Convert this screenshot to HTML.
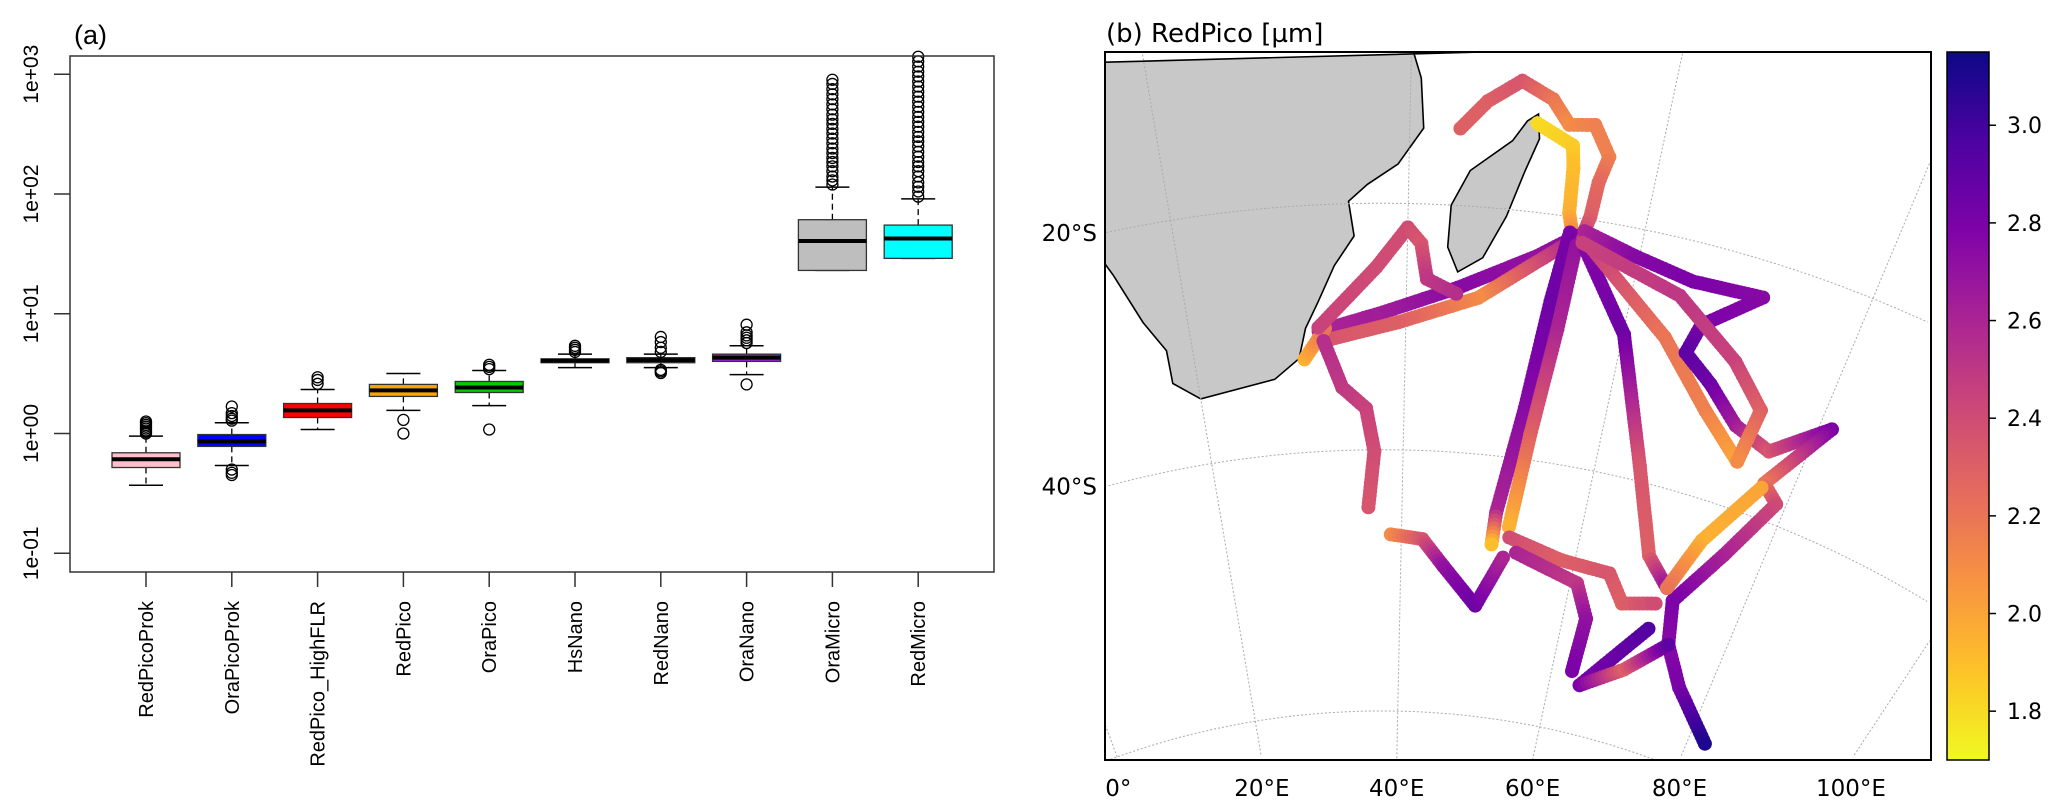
<!DOCTYPE html>
<html><head><meta charset="utf-8"><title>Boxplots and RedPico map</title>
<style>
html,body{margin:0;padding:0;background:#fff;overflow:hidden;}
svg{display:block;font-family:"Liberation Sans","DejaVu Sans",sans-serif;}
.dv{font-family:"DejaVu Sans","Liberation Sans",sans-serif;}
</style></head>
<body>
<svg id="fig" width="2067" height="809" viewBox="0 0 2067 809" xmlns="http://www.w3.org/2000/svg">
  <defs>
    <clipPath id="mapclip"><rect x="1105" y="52" width="826" height="708"/></clipPath>
    <linearGradient id="cbgrad" x1="0" y1="0" x2="0" y2="1">
      <stop offset="0" stop-color="#0d0887"/>
      <stop offset="0.125" stop-color="#4c02a1"/>
      <stop offset="0.25" stop-color="#7e03a8"/>
      <stop offset="0.375" stop-color="#a92395"/>
      <stop offset="0.5" stop-color="#cc4778"/>
      <stop offset="0.625" stop-color="#e56b5d"/>
      <stop offset="0.75" stop-color="#f89441"/>
      <stop offset="0.875" stop-color="#fdc328"/>
      <stop offset="1" stop-color="#f0f921"/>
    </linearGradient>
  </defs>
  <g id="panelA">
    <text x="74" y="44" font-size="27">(a)</text>
    <g id="boxes"></g>
    <rect x="70" y="56" width="924" height="516" fill="none" stroke="#333" stroke-width="1.5"/>
    <g id="yaxisA"></g>
    <g id="xaxisA"></g>
  </g>
  <g id="panelB">
    <text class="dv" x="1106" y="42" font-size="26">(b) RedPico [µm]</text>
    <g clip-path="url(#mapclip)">
      <g id="land"></g>
      <g id="grat"></g>
      <g id="tracks"></g>
    </g>
    <rect x="1105" y="52" width="826" height="708" fill="none" stroke="#000" stroke-width="2"/>
    <g id="mapLabels" class="dv"></g>
    <rect x="1947" y="52" width="42" height="708" fill="url(#cbgrad)" stroke="#000" stroke-width="1.5"/>
    <g id="cbTicks" class="dv"></g>
  </g>
</svg>
<script>
// ---------- Panel (a) data ----------
const boxCategories = ["RedPicoProk","OraPicoProk","RedPico_HighFLR","RedPico","OraPico","HsNano","RedNano","OraNano","OraMicro","RedMicro"];
const boxColors = ["#ffc0cb","#0000ff","#ff0000","#ffa500","#00cd00","#777777","#777777","#a020f0","#bebebe","#00ffff"];
const boxQ1 = [0.52,0.78,1.36,2.04,2.2,3.9,3.9,4.0,23,29];
const boxMedian = [0.61,0.86,1.56,2.29,2.42,4.06,4.1,4.3,40.5,42.5];
const boxQ3 = [0.69,0.98,1.78,2.57,2.72,4.2,4.3,4.6,61,55];
const whiskerLow = [0.37,0.54,1.08,1.56,1.71,3.55,3.55,3.1,23,29];
const whiskerHigh = [0.95,1.23,2.33,3.17,3.36,4.6,4.6,5.4,114,91];
const outliers = [
  [1.0,1.03,1.06,1.1,1.14,1.18,1.22,1.26],
  [1.28,1.33,1.4,1.48,1.68,0.5,0.47,0.45],
  [2.6,2.8,2.95],
  [1.3,1.0],
  [3.45,3.6,3.75,1.08],
  [4.8,5.0,5.2,5.4],
  [4.8,5.2,5.8,6.4,3.4,3.3,3.2],
  [5.7,6.0,6.3,6.6,7.0,8.1,2.57],
  [120,130,140,155,170,185,200,220,240,265,290,320,350,385,420,460,510,560,620,680,750,830,900],
  [95,105,115,125,140,155,170,185,205,225,250,275,300,330,365,400,440,485,535,590,650,715,790,870,960,1050,1160,1280,1400]
];
const yTickValues = [0.1,1,10,100,1000];
const yTickLabels = ["1e-01","1e+00","1e+01","1e+02","1e+03"];

// ---------- Panel (b) data: [lon, lat, RedPico size µm] ----------
const trackNorth = [[44,-13.5,2.3],[46,-11,2.3],[48.5,-9,2.35],[51,-10.3,2.2],[52.5,-12.3,2.1],[54.5,-12,2.15],[56,-14.5,2.15],[55.5,-16.8,2.25],[55.3,-19.7,2.3],[55,-21,2.4]];
const trackYellow = [[50,-12.5,1.8],[53,-14,1.85],[53.3,-15.9,1.9],[53.5,-19.7,1.95],[54,-21.3,2.1]];
const trackWest1 = [[54.4,-21.5,2.75],[51.3,-23.6,2.7],[44.6,-26.8,2.75],[37.9,-29,2.65],[31.9,-30.4,2.6]];
const trackWest2 = [[54,-22,2.6],[46.5,-27.5,2.1],[39.3,-29.8,2.3],[32.3,-31.2,2.35]];
const trackCoast = [[30.4,-32.6,1.95],[32.5,-30.2,2.2]];
const trackWestLoop = [[31.9,-30.1,2.45],[37.3,-25.3,2.4],[40,-22,2.4],[41.2,-23.3,2.35],[41.8,-26.2,2.5],[44.5,-27.3,2.55]];
const trackWestSouth = [[32.3,-31.2,2.55],[33.9,-35,2.5],[36.2,-36.7,2.45],[37,-40.1,2.4],[36.3,-44.5,2.35]];
const trackSouthWest = [[38.8,-46.6,2.1],[42.4,-46.9,2.35],[45,-48.9,2.7],[49.2,-51.7,2.85],[51.8,-47.8,2.6]];
const trackS1 = [[53.8,-21.3,2.8],[53,-27.2,2.85],[52,-36,2.75],[50.4,-44.4,2.6],[50.3,-46.9,1.9]];
const trackS2 = [[54.5,-22.3,2.7],[54,-29.3,2.6],[52.9,-38,2.3],[52,-45.4,1.95]];
const trackS3 = [[55,-22,2.75],[60.1,-28.8,2.85],[64.5,-38.8,2.35],[68,-45.4,2.3],[71,-47.4,2.7]];
const trackS4 = [[55,-21.6,2.5],[63.8,-28.3,2.2],[69.3,-33.2,2.15],[73.8,-36.3,2.0]];
const trackEast = [[55,-21,2.6],[59.6,-22.3,2.75],[65,-23.3,2.8],[71.2,-23,2.75],[66.7,-26.6,2.8],[66,-29.1,2.9],[69,-31,2.85],[72.5,-33.6,2.65],[76.4,-34.7,2.35],[81.2,-31.2,2.8],[77.1,-37.2,2.2],[79,-38.4,2.4],[75.8,-43.6,2.6],[72.1,-48.2,2.8],[73.3,-51.5,2.75],[76.4,-54.3,2.8],[82.3,-57.5,3.1]];
const trackEast2 = [[55,-22,2.45],[64.2,-24.7,2.5],[70.6,-28.7,2.45],[74.3,-31.8,2.3],[73.8,-36.3,2.1]];
const trackSE = [[77,-37.6,2.0],[73,-43.1,1.95],[71,-47.4,2.2]];
const trackC1 = [[52.2,-46.2,2.4],[58.5,-47.3,2.3],[64.2,-47.5,2.35],[66.5,-49.5,2.3],[70.3,-48.8,2.4]];
const trackC2 = [[53.2,-47.3,2.6],[60.8,-48.8,2.5],[62.8,-51.3,2.7],[62.6,-55.4,2.8]];
const trackC3 = [[70.4,-50.8,2.95],[64,-56.3,2.8],[69,-54.3,2.3],[73.3,-51.5,2.9]];
const africaOutline = [[45,0],[40.2,-7.2],[40.8,-9.3],[41.1,-13.6],[39.1,-16.7],[36.6,-18.4],[35,-19.8],[35.4,-22.7],[33.6,-25.1],[32,-28],[30.7,-30.1],[29.9,-32.5],[27.4,-34],[20,-34.8],[17.6,-33.2],[17.6,-30.5],[16,-27.9],[14.3,-23.6],[13.7,-22.5],[0,-22],[0,0]];
const madagascarOutline = [[50,-11.7],[50.3,-13.8],[49.4,-16.8],[48.3,-20.6],[46.6,-24.2],[44.5,-25.5],[43.5,-23.5],[43.6,-20],[45,-17],[48.2,-14.2],[49.2,-12.4]];
const meridians = [0,20,40,60,80,100];
const meridianLabels = ["0°","20°E","40°E","60°E","80°E","100°E"];
const parallels = [-20,-40,-60];
const parallelLabels = ["20°S","40°S",""];
const cbTickValues = [1.8,2.0,2.2,2.4,2.6,2.8,3.0];
const cbTickLabels = ["1.8","2.0","2.2","2.4","2.6","2.8","3.0"];
const cbMin = 1.70, cbMax = 3.15;

const NS = "http://www.w3.org/2000/svg";
function mk(tag, attrs, parent){ const e=document.createElementNS(NS,tag); for(const k in attrs) e.setAttribute(k,attrs[k]); parent.appendChild(e); return e; }

// ---------- Panel (a) ----------
function yA(v){ return 433.5 - 119.75*Math.log10(v); }
function xA(i){ return 146 + i*85.8; }
const gBoxes=document.getElementById('boxes');
boxCategories.forEach((cat,i)=>{
  const g=mk('g',{},gBoxes);
  
  
  const cx=xA(i);
  const w1=mk('line',{x1:cx,x2:cx,y1:yA(boxQ3[i]),y2:yA(whiskerHigh[i]),stroke:'#000','stroke-width':1.3,'stroke-dasharray':'6,4'},g);
  
  
  const w2=mk('line',{x1:cx,x2:cx,y1:yA(boxQ1[i]),y2:yA(whiskerLow[i]),stroke:'#000','stroke-width':1.3,'stroke-dasharray':'6,4'},g);
  
  
  const c1=mk('line',{x1:cx-17,x2:cx+17,y1:yA(whiskerHigh[i]),y2:yA(whiskerHigh[i]),stroke:'#000','stroke-width':1.5},g);
  
  
  const c2=mk('line',{x1:cx-17,x2:cx+17,y1:yA(whiskerLow[i]),y2:yA(whiskerLow[i]),stroke:'#000','stroke-width':1.5},g);
  
  
  const r=mk('rect',{x:cx-34,y:yA(boxQ3[i]),width:68,height:Math.max(yA(boxQ1[i])-yA(boxQ3[i]),1),fill:boxColors[i],stroke:'#333','stroke-width':1.3},g);
  
  
  const m=mk('line',{x1:cx-34,x2:cx+34,y1:yA(boxMedian[i]),y2:yA(boxMedian[i]),stroke:'#000','stroke-width':4},g);
  
  
  outliers[i].forEach(v=>{
    const o=mk('circle',{cx:cx,cy:yA(v),r:5.5,fill:'none',stroke:'#000','stroke-width':1.3},g);
    
    
  });
});
const gY=document.getElementById('yaxisA');
yTickValues.forEach((v,i)=>{
  const y=yA(v);
  const t=mk('line',{x1:54,x2:70,y1:y,y2:y,stroke:'#333','stroke-width':1.5},gY);
  
  
  const l=mk('text',{x:0,y:0,'font-size':21,'text-anchor':'middle',transform:`translate(38,${y}) rotate(-90)`},gY);
  l.textContent=yTickLabels[i];
  
  
});
const gX=document.getElementById('xaxisA');
boxCategories.forEach((cat,i)=>{
  const x=xA(i);
  const t=mk('line',{x1:x,x2:x,y1:572,y2:587,stroke:'#333','stroke-width':1.5},gX);
  
  
  const l=mk('text',{x:0,y:0,'font-size':20,'text-anchor':'end',transform:`translate(${x+7},601) rotate(-90)`},gX);
  l.textContent=cat;
  
  
});

// ---------- Panel (b) ----------
const MX0=1105, MX1=1931, MY0=52, MY1=760;
function proj(lon,lat){
  const th=(lon-37.8)*0.53*Math.PI/180;
  const s=lat+40;
  const r=1039+12.925*s-0.01875*s*s;
  return [1382+r*Math.sin(th), (1497-r*Math.cos(th))*0.982];
}
function inside(p){ return p[0]>=MX0 && p[0]<=MX1 && p[1]>=MY0 && p[1]<=MY1; }
function clampPt(p){ return [Math.min(MX1,Math.max(MX0,p[0])), Math.min(MY1,Math.max(MY0,p[1]))]; }
const plasma=["#0d0887","#4c02a1","#7e03a8","#a92395","#cc4778","#e56b5d","#f89441","#fdc328","#f0f921"];
function hex(h){return [parseInt(h.slice(1,3),16),parseInt(h.slice(3,5),16),parseInt(h.slice(5,7),16)];}
function colorFor(v){
  let t=1-(v-cbMin)/(cbMax-cbMin); t=Math.max(0,Math.min(1,t));
  const f=t*8, i=Math.min(7,Math.floor(f)), u=f-i;
  const a=hex(plasma[i]), b=hex(plasma[i+1]);
  return `rgb(${Math.round(a[0]+(b[0]-a[0])*u)},${Math.round(a[1]+(b[1]-a[1])*u)},${Math.round(a[2]+(b[2]-a[2])*u)})`;
}
function polyPtsClamped(arr){ return arr.map(p=>clampPt(proj(p[0],p[1])).map(n=>n.toFixed(1)).join(',')).join(' '); }
const gLand=document.getElementById('land');
const af=mk('polygon',{points:polyPtsClamped(africaOutline),fill:'#c8c8c8',stroke:'#000','stroke-width':1.6},gLand);


const mg=mk('polygon',{points:polyPtsClamped(madagascarOutline),fill:'#c8c8c8',stroke:'#000','stroke-width':1.6},gLand);



function insideLine(ptsLL){
  return ptsLL.map(p=>proj(p[0],p[1])).filter(inside).map(p=>p[0].toFixed(1)+','+p[1].toFixed(1)).join(' ');
}
const gG=document.getElementById('grat');
meridians.forEach(lon=>{
  const pts=[]; for(let lat=-80;lat<=5;lat+=0.5) pts.push([lon,lat]);
  const l=mk('polyline',{points:insideLine(pts),fill:'none',stroke:'#aaa','stroke-width':1,'stroke-dasharray':'2,2'},gG);
  
  
});
parallels.forEach(lat=>{
  const pts=[]; for(let lon=-30;lon<=140;lon+=0.5) pts.push([lon,lat]);
  const l=mk('polyline',{points:insideLine(pts),fill:'none',stroke:'#aaa','stroke-width':1,'stroke-dasharray':'2,2'},gG);
  
  
});

const gT=document.getElementById('tracks');
const allTracks=[trackNorth,trackYellow,trackWest1,trackWest2,trackCoast,trackWestLoop,trackWestSouth,trackSouthWest,trackS1,trackS2,trackS3,trackS4,trackEast,trackEast2,trackSE,trackC1,trackC2,trackC3];
allTracks.forEach(tr=>{
  const g=mk('g',{},gT);
  
  
  for(let k=0;k<tr.length-1;k++){
    const a=proj(tr[k][0],tr[k][1]), b=proj(tr[k+1][0],tr[k+1][1]);
    const d=Math.hypot(b[0]-a[0],b[1]-a[1]); const n=Math.max(1,Math.round(d/4));
    for(let j=0;j<=n;j++){
      const u=j/n;
      const v=tr[k][2]+(tr[k+1][2]-tr[k][2])*u;
      const px=[a[0]+(b[0]-a[0])*u, a[1]+(b[1]-a[1])*u];
      if(!inside(px)) continue;
      const c=mk('circle',{cx:px[0].toFixed(1),cy:px[1].toFixed(1),r:7,fill:colorFor(v)},g);
      
      
    }
  }
});

const gML=document.getElementById('mapLabels');
meridians.forEach((lon,i)=>{
  let lo=-80,hi=0; for(let it=0;it<40;it++){const m=(lo+hi)/2; if(proj(lon,m)[1]>760) lo=m; else hi=m;}
  const x=proj(lon,lo)[0];
  const t=mk('text',{x:x,y:796,'font-size':23,'text-anchor':'middle'},gML);
  t.textContent=meridianLabels[i];
  
  
});
parallels.forEach((lat,i)=>{
  if(!parallelLabels[i]) return;
  let lo=-40,hi=120; for(let it=0;it<40;it++){const m=(lo+hi)/2; if(proj(m,lat)[0]<1105) lo=m; else hi=m;}
  const y=proj(lo,lat)[1];
  const t=mk('text',{x:1097,y:y+8,'font-size':23,'text-anchor':'end'},gML);
  t.textContent=parallelLabels[i];
  
  
});

const gCB=document.getElementById('cbTicks');
function yCB(v){ return 760-(v-cbMin)/(cbMax-cbMin)*708; }
cbTickValues.forEach((v,i)=>{
  const y=yCB(v);
  const t=mk('line',{x1:1989,x2:1996,y1:y,y2:y,stroke:'#000','stroke-width':1.5},gCB);
  
  
  const l=mk('text',{x:2007,y:y+8,'font-size':22},gCB);
  l.textContent=cbTickLabels[i];
  
  
});
</script>
</body></html>
